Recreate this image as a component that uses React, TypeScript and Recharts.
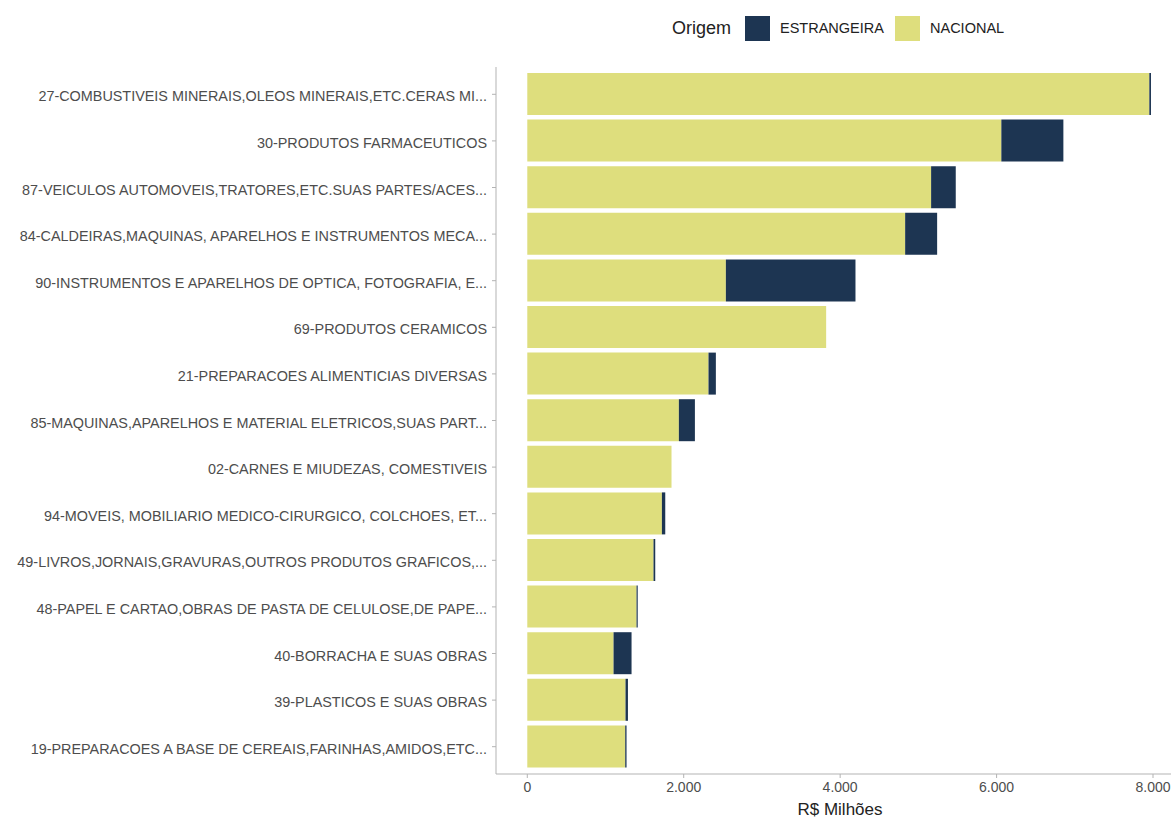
import { BarChart, Bar, XAxis, YAxis } from "recharts";

const categorias = [
  "27-COMBUSTIVEIS MINERAIS,OLEOS MINERAIS,ETC.CERAS MI...",
  "30-PRODUTOS FARMACEUTICOS",
  "87-VEICULOS AUTOMOVEIS,TRATORES,ETC.SUAS PARTES/ACES...",
  "84-CALDEIRAS,MAQUINAS, APARELHOS E INSTRUMENTOS MECA...",
  "90-INSTRUMENTOS E APARELHOS DE OPTICA, FOTOGRAFIA, E...",
  "69-PRODUTOS CERAMICOS",
  "21-PREPARACOES ALIMENTICIAS DIVERSAS",
  "85-MAQUINAS,APARELHOS E MATERIAL ELETRICOS,SUAS PART...",
  "02-CARNES E MIUDEZAS, COMESTIVEIS",
  "94-MOVEIS, MOBILIARIO MEDICO-CIRURGICO, COLCHOES, ET...",
  "49-LIVROS,JORNAIS,GRAVURAS,OUTROS PRODUTOS GRAFICOS,...",
  "48-PAPEL E CARTAO,OBRAS DE PASTA DE CELULOSE,DE PAPE...",
  "40-BORRACHA E SUAS OBRAS",
  "39-PLASTICOS E SUAS OBRAS",
  "19-PREPARACOES A BASE DE CEREAIS,FARINHAS,AMIDOS,ETC...",
];

// R$ milhões
const nacional = [7953, 6061, 5163, 4831, 2539, 3821, 2317, 1938, 1844, 1721, 1614, 1397, 1103, 1256, 1252];
const estrangeira = [21, 793, 315, 409, 1657, 0, 94, 205, 0, 43, 22, 15, 230, 31, 17];

const xTicks = [0, 2000, 4000, 6000, 8000];

const COR_NACIONAL = "#DEDE7D";
const COR_ESTRANGEIRA = "#1D3552";
const AXIS_GREY = "#b3b3b3";
const TEXT_GREY = "#4d4d4d";
const FONT = "'Liberation Sans', Arial, sans-serif";

const data = categorias.map((c, i) => ({
  categoria: c,
  nacional: nacional[i],
  estrangeira: estrangeira[i],
}));

const fmt = (v: number) => v.toLocaleString("pt-BR");

function LegendaOrigem() {
  return (
    <div style={{ position: "absolute", left: 0, top: 0, width: 1171, height: 55, fontFamily: FONT }}>
      <span style={{ position: "absolute", left: 672, top: 18, fontSize: 18, color: "#222" }}>Origem</span>
      <div style={{ position: "absolute", left: 745, top: 16, width: 25, height: 25, background: COR_ESTRANGEIRA }} />
      <span style={{ position: "absolute", left: 780, top: 20, fontSize: 14.5, color: "#222" }}>ESTRANGEIRA</span>
      <div style={{ position: "absolute", left: 895, top: 16, width: 25, height: 25, background: COR_NACIONAL }} />
      <span style={{ position: "absolute", left: 930, top: 20, fontSize: 14.5, color: "#222" }}>NACIONAL</span>
    </div>
  );
}

function YTick(props: any) {
  const { x, y, payload } = props;
  return (
    <text x={x} y={y} dy={2} textAnchor="end" dominantBaseline="central" fill={TEXT_GREY} fontSize={14.4} fontFamily={FONT}>
      {payload.value}
    </text>
  );
}

export default function App() {
  return (
    <div style={{ position: "absolute", left: 0, top: 0, width: 1171, height: 818 }}>
      <LegendaOrigem />
      <BarChart
        width={1171}
        height={818}
        data={data}
        layout="vertical"
        margin={{ top: 67, right: 0, bottom: 14, left: 0 }}
        barSize={42}
      >
        <XAxis
          type="number"
          domain={[-400, 8230]}
          ticks={xTicks}
          tickFormatter={fmt}
          allowDataOverflow
          height={30}
          stroke={AXIS_GREY}
          tickSize={4}
          tickMargin={4}
          tick={{ fill: TEXT_GREY, fontSize: 14, fontFamily: FONT }}
        />
        <YAxis
          type="category"
          dataKey="categoria"
          width={496}
          padding={{ top: 4, bottom: 4 }}
          stroke={AXIS_GREY}
          tickSize={4}
          tickMargin={5}
          interval={0}
          tick={<YTick />}
        />
        <Bar dataKey="nacional" stackId="a" fill={COR_NACIONAL} isAnimationActive={false} />
        <Bar dataKey="estrangeira" stackId="a" fill={COR_ESTRANGEIRA} isAnimationActive={false} />
      </BarChart>
      <div
        style={{
          position: "absolute",
          left: 740,
          width: 200,
          top: 800,
          textAlign: "center",
          fontFamily: FONT,
          fontSize: 17,
          color: "#222",
        }}
      >
        R$ Milhões
      </div>
    </div>
  );
}
